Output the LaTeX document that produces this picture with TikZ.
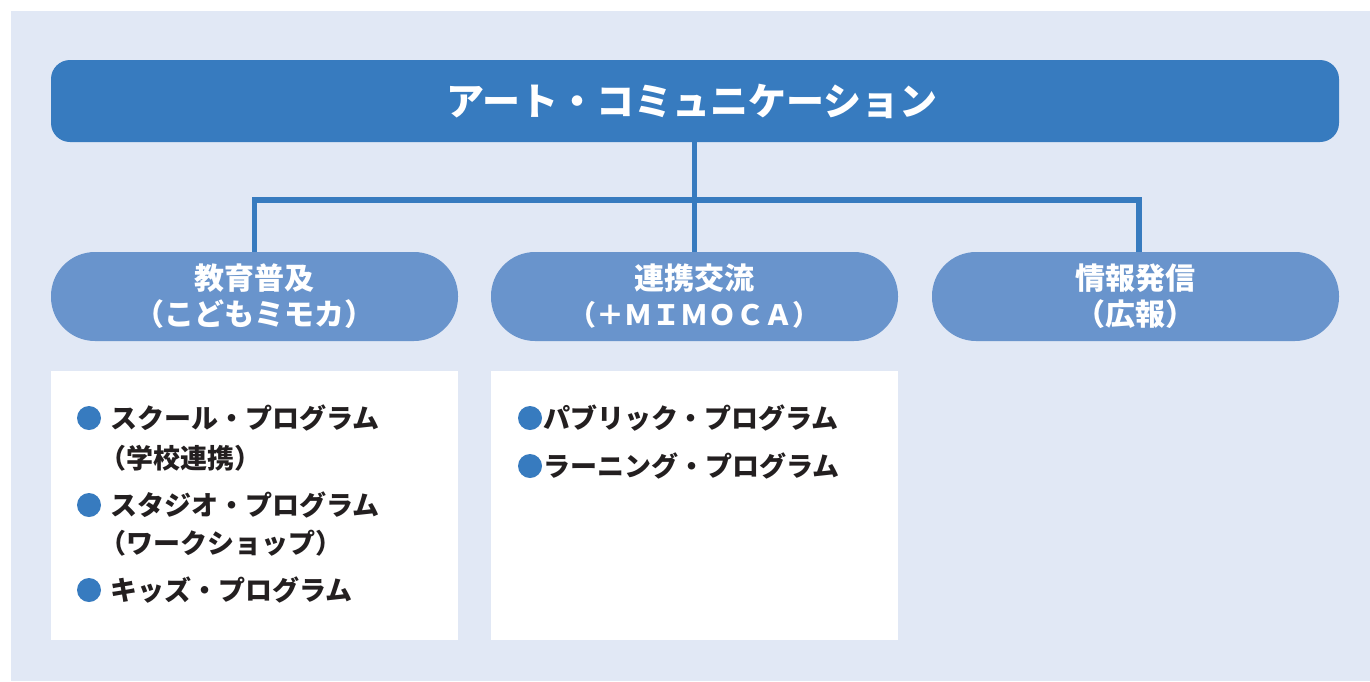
\documentclass[tikz,border=0pt]{standalone}
\usepackage{fontspec}
\newfontfamily\jp{Noto Sans CJK JP}
\definecolor{bgc}{HTML}{E1E8F5}
\definecolor{topc}{HTML}{377BBF}
\definecolor{ovalc}{HTML}{6994CC}
\definecolor{txtc}{HTML}{231F20}
\begin{document}
\begin{tikzpicture}[x=1pt,y=-1pt,
  topbox/.style={rectangle, rounded corners=19pt, fill=topc, minimum width=1288pt, minimum height=82pt, inner sep=0pt, text=white, font=\jp\bfseries\fontsize{38}{40}\selectfont},
  ovalbox/.style={rectangle, rounded corners=44pt, fill=ovalc, minimum width=407pt, minimum height=89pt, inner sep=0pt, text=white, align=center, font=\jp\bfseries\fontsize{30}{36}\selectfont},
  listbox/.style={rectangle, fill=white, minimum width=407pt, minimum height=269pt, inner sep=0pt},
  conn/.style={draw=topc, line width=5.5pt, line join=miter},
  bulletdot/.style={circle, fill=topc, minimum size=24pt, inner sep=0pt},
  itemtext/.style={anchor=west, inner sep=0pt, text=txtc, font=\jp\bfseries\fontsize{27}{30}\selectfont}]
\useasboundingbox (0,0) rectangle (1370,681);
\fill[bgc] (11,11) rectangle (1370,681);

\node[topbox] (top) at (695,101) {アート・コミュニケーション\hspace*{6pt}};

\node[ovalbox] (edu) at (254.5,296.5) {教育普及\\（こどもミモカ）};
\node[ovalbox] (coop) at (694.5,296.5) {連携交流\\{\fontsize{28}{36}\selectfont（＋ＭＩＭＯＣＡ）}};
\node[ovalbox] (info) at (1135.5,296.5) {情報発信\\（広報）};

\coordinate (hub) at (694.5,200);
\draw[conn] (top.south -| hub) -- (coop.north);
\draw[conn] (edu.north) |- (hub) -| ([xshift=3.5pt]info.north);

\node[listbox] (listL) at (254.5,505.5) {};
\node[listbox] (listM) at (694.5,505.5) {};

\node[bulletdot] (b1) at (89,418) {};
\node[itemtext] (t1) at (110,418) {スクール・プログラム};
\node[itemtext] (t1b) at (99,458) {（学校連携）};
\node[bulletdot] (b2) at (89,505) {};
\node[itemtext] (t2) at (110,505) {スタジオ・プログラム};
\node[itemtext] (t2b) at (99,543) {（ワークショップ）};
\node[bulletdot] (b3) at (89,590) {};
\node[itemtext] (t3) at (110,590) {キッズ・プログラム};

\node[bulletdot] (b4) at (530,418) {};
\node[itemtext] (t4) at (543,418) {パブリック・プログラム};
\node[bulletdot] (b5) at (530,466) {};
\node[itemtext] (t5) at (543,466) {ラーニング・プログラム};
\end{tikzpicture}
\end{document}
